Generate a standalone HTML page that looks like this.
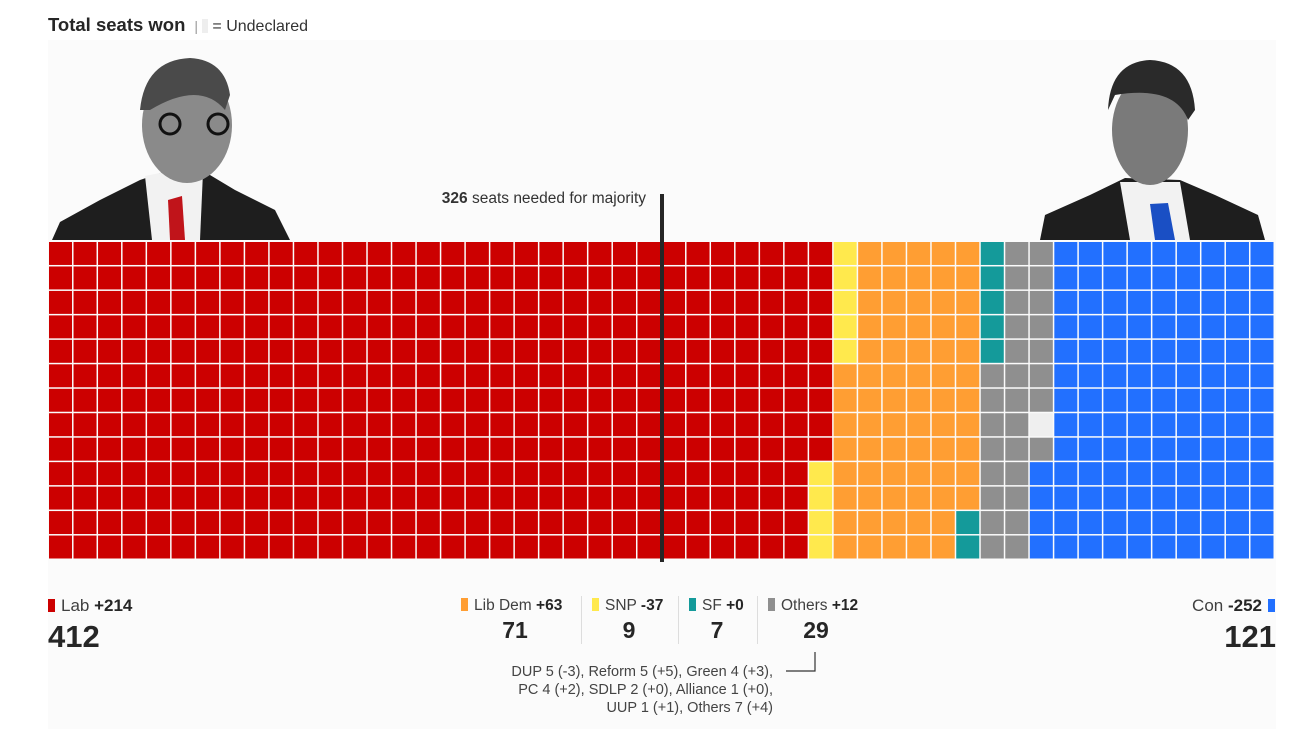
<!DOCTYPE html>
<html><head><meta charset="utf-8">
<style>
body{margin:0;width:1303px;height:729px;background:#fff;font-family:"Liberation Sans",sans-serif;color:#262626;overflow:hidden;position:relative}
#bg{position:absolute;left:48px;top:40px;width:1228px;height:689px;background:#fbfbfb}
.t{position:absolute;white-space:nowrap}
.sw{display:inline-block;width:7px;height:13px;vertical-align:-1px;margin-right:6px}
.lbl{font-size:17px;color:#404040}
.lbl b{color:#262626}
.num{font-size:31px;font-weight:bold;color:#262626}
.mnum{font-size:23px;font-weight:bold;text-align:center}
.sep{position:absolute;top:596px;width:1px;height:48px;background:#ddd}
</style></head><body>
<div id="bg"></div>
<div class="t" style="left:48px;top:14px;font-size:18.5px;font-weight:bold;color:#262626">Total seats won <span style="font-weight:normal;color:#999;font-size:14px">&nbsp;|&nbsp;</span><span style="display:inline-block;width:6px;height:14px;background:#eee;vertical-align:-2px"></span><span style="font-weight:normal;font-size:16px;color:#333"> = Undeclared</span></div>

<svg width="1303" height="729" style="position:absolute;left:0;top:0">
<g id="photos">
<g>
<path d="M52,240 L60,222 L100,200 L140,180 L175,168 L205,172 L235,190 L275,210 L290,240 Z" fill="#1e1e1e"/>
<path d="M145,176 L175,170 L203,172 L200,240 L152,240 Z" fill="#f2f2f2"/>
<path d="M168,200 L182,196 L185,240 L170,240 Z" fill="#c0141a"/>
<ellipse cx="187" cy="125" rx="45" ry="58" fill="#8a8a8a"/>
<path d="M140,110 Q145,60 190,58 Q225,60 230,95 L225,110 Q200,80 150,110 Z" fill="#4a4a4a"/>
<circle cx="170" cy="124" r="10" fill="none" stroke="#111" stroke-width="3"/>
<circle cx="218" cy="124" r="10" fill="none" stroke="#111" stroke-width="3"/>
</g>
<g>
<path d="M1040,240 L1045,215 L1090,195 L1125,178 L1180,180 L1215,195 L1258,215 L1265,240 Z" fill="#1e1e1e"/>
<path d="M1120,182 L1180,182 L1190,240 L1130,240 Z" fill="#f2f2f2"/>
<path d="M1150,204 L1168,203 L1175,240 L1155,240 Z" fill="#1a4fc4"/>
<ellipse cx="1150" cy="130" rx="38" ry="55" fill="#7a7a7a"/>
<path d="M1108,110 Q1110,62 1150,60 Q1192,62 1195,110 L1188,120 Q1175,85 1115,95 Z" fill="#2a2a2a"/>
</g>
</g>
<g id="cells"></g>
<rect x="660" y="194" width="4" height="368" fill="#262626"/>
<text x="646" y="203" text-anchor="end" font-size="15.5" fill="#333" font-family="Liberation Sans, sans-serif"><tspan font-weight="bold">326</tspan> seats needed for majority</text>
<path d="M815,652 V671 H786" fill="none" stroke="#333" stroke-width="1.2"/>
</svg>

<div class="t lbl" style="left:48px;top:596px"><span class="sw" style="background:#cc0000"></span>Lab <b>+214</b></div>
<div class="t num" style="left:48px;top:619px">412</div>
<div class="t lbl" style="right:28px;top:596px">Con <b>-252</b><span class="sw" style="background:#2270ff;margin:0 0 0 6px"></span></div>
<div class="t num" style="right:27px;top:619px">121</div>

<div class="t lbl" style="left:461px;top:597px;font-size:15.5px"><span class="sw" style="background:#ff9e33"></span>Lib Dem <b>+63</b></div>
<div class="t mnum" style="left:490px;top:617px;width:50px">71</div>
<div class="sep" style="left:581px"></div>
<div class="t lbl" style="left:592px;top:597px;font-size:15.5px"><span class="sw" style="background:#ffe94d"></span>SNP <b>-37</b></div>
<div class="t mnum" style="left:604px;top:617px;width:50px">9</div>
<div class="sep" style="left:678px"></div>
<div class="t lbl" style="left:689px;top:597px;font-size:15.5px"><span class="sw" style="background:#149a9a"></span>SF <b>+0</b></div>
<div class="t mnum" style="left:692px;top:617px;width:50px">7</div>
<div class="sep" style="left:757px"></div>
<div class="t lbl" style="left:768px;top:597px;font-size:15.5px"><span class="sw" style="background:#8f8f8f"></span>Others <b>+12</b></div>
<div class="t mnum" style="left:791px;top:617px;width:50px">29</div>
<div class="t" style="right:530px;top:663px;font-size:14.5px;line-height:18px;color:#444;text-align:right">DUP 5 (-3), Reform 5 (+5), Green 4 (+3),<br>PC 4 (+2), SDLP 2 (+0), Alliance 1 (+0),<br>UUP 1 (+1), Others 7 (+4)</div>

<script>
const parties = ["Lab","SNP","LibDem","SF","Others","Con"];
const seats = [412, 9, 71, 7, 29, 121];
const colors = ["#cc0000","#ffe94d","#ff9e33","#149a9a","#8f8f8f","#2270ff"];
const undeclared = 1;
const undeclaredPos = 527;
const ROWS = 13, COLS = 50;
const x0 = 49, y0 = 242, cw = 1226/COLS, ch = 318/ROWS;
function cx(col){return x0+col*cw;}
function cy(row){return y0+row*ch;}
const seq = [];
parties.forEach((p,i)=>{for(let k=0;k<seats[i];k++)seq.push(i);});
for(let u=0;u<undeclared;u++)seq.splice(undeclaredPos,0,-1);
const g = document.getElementById('cells');
const NS = "http://www.w3.org/2000/svg";
seq.forEach((pi,idx)=>{
  const col = Math.floor(idx/ROWS), row = idx%ROWS;
  if(col>=COLS) return;
  const r = document.createElementNS(NS,'rect');
  r.setAttribute('x', cx(col)); r.setAttribute('y', cy(row));
  r.setAttribute('width', cw-1.5); r.setAttribute('height', ch-1.5);
  r.setAttribute('fill', pi<0 ? '#efefef' : colors[pi]);
  
  
  g.appendChild(r);
});
</script>
</body></html>
